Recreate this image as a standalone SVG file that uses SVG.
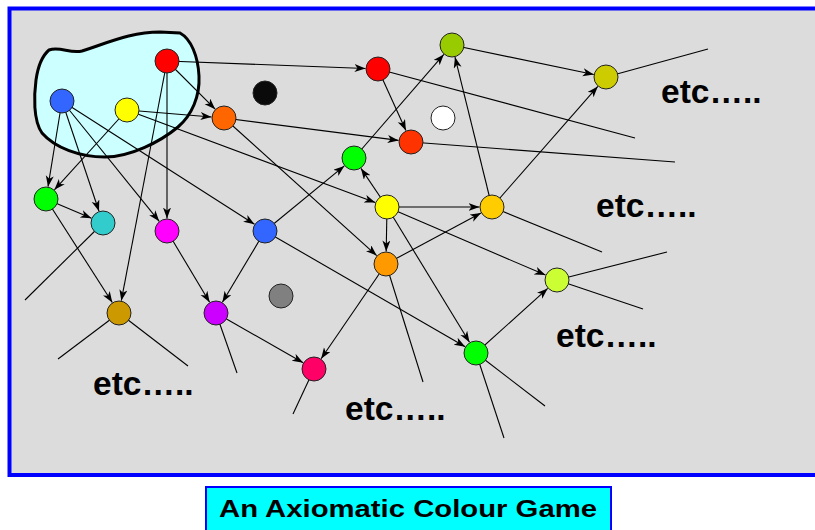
<svg xmlns="http://www.w3.org/2000/svg" width="815" height="530" viewBox="0 0 815 530">
<style>
.edge{stroke:#000;stroke-width:1.1;fill:none}
.arr{marker-end:url(#ah)}
.node{stroke:#222;stroke-width:1}
.etc{font-family:"Liberation Sans",Arial,sans-serif;font-weight:bold;font-size:33.5px;fill:#000}
</style>
<defs>
<marker id="ah" markerUnits="userSpaceOnUse" markerWidth="12" markerHeight="9" refX="11" refY="4" orient="auto">
<path d="M0,0 L11,4 L0,8 L3,4 Z" fill="#000"/>
</marker>
</defs>
<rect x="0" y="0" width="815" height="530" fill="#fff"/>
<rect x="9.5" y="8.5" width="812" height="466.5" fill="#dcdcdc" stroke="#0000ff" stroke-width="4"/>
<path id="blob" d="M49,50 C60,46 70,54 82,51 C110,42 132,32 160,32 L180,33 C191,39 198,56 199,76 C200,96 192,115 178,127 C160,142 130,157 105,157 C80,157 55,148 42,133 C33,120 34,95 36,80 C38,66 42,56 49,50 Z" fill="#ccffff" stroke="#000" stroke-width="3"/>
<g id="connectors">
<line class="edge arr" x1="167" y1="61" x2="365.5" y2="68.5"/>
<line class="edge arr" x1="167" y1="61" x2="215.2" y2="109.2"/>
<line class="edge arr" x1="167" y1="61" x2="167" y2="218.5"/>
<line class="edge arr" x1="167" y1="61" x2="121.3" y2="300.7"/>
<line class="edge arr" x1="62" y1="101" x2="48" y2="186.7"/>
<line class="edge arr" x1="62" y1="101" x2="99" y2="211.2"/>
<line class="edge arr" x1="62" y1="101" x2="159.2" y2="221.3"/>
<line class="edge arr" x1="62" y1="101" x2="254.5" y2="224.3"/>
<line class="edge arr" x1="127" y1="110" x2="211.5" y2="117"/>
<line class="edge arr" x1="127" y1="110" x2="54.4" y2="189.8"/>
<line class="edge arr" x1="127" y1="110" x2="375.3" y2="202.6"/>
<line class="edge arr" x1="46" y1="199" x2="91.5" y2="218.2"/>
<line class="edge arr" x1="46" y1="199" x2="112.3" y2="302.5"/>
<line class="edge arr" x1="224" y1="118" x2="398.6" y2="140.4"/>
<line class="edge arr" x1="224" y1="118" x2="376.7" y2="255.6"/>
<line class="edge arr" x1="265" y1="231" x2="344.3" y2="165.9"/>
<line class="edge arr" x1="354" y1="158" x2="443.8" y2="54.4"/>
<line class="edge arr" x1="378" y1="69" x2="405.9" y2="130.6"/>
<line class="edge arr" x1="452" y1="45" x2="593.8" y2="74.5"/>
<line class="edge arr" x1="387" y1="207" x2="361" y2="168.4"/>
<line class="edge arr" x1="387" y1="207" x2="479.5" y2="207"/>
<line class="edge arr" x1="387" y1="207" x2="386.2" y2="251.5"/>
<line class="edge arr" x1="492" y1="207" x2="455" y2="57.1"/>
<line class="edge arr" x1="492" y1="207" x2="597.8" y2="86.4"/>
<line class="edge arr" x1="386" y1="264" x2="481" y2="212.9"/>
<line class="edge arr" x1="387" y1="207" x2="545.5" y2="275.1"/>
<line class="edge arr" x1="387" y1="207" x2="469.5" y2="342.3"/>
<line class="edge arr" x1="265" y1="231" x2="465.2" y2="346.7"/>
<line class="edge arr" x1="265" y1="231" x2="222.4" y2="302.3"/>
<line class="edge arr" x1="167" y1="231" x2="209.6" y2="302.3"/>
<line class="edge arr" x1="216" y1="313" x2="303.2" y2="362.8"/>
<line class="edge arr" x1="386" y1="264" x2="321.1" y2="358.7"/>
<line class="edge arr" x1="476" y1="353" x2="547.7" y2="288.4"/>
<line class="edge" x1="103" y1="223" x2="25" y2="300"/>
<line class="edge" x1="378" y1="69" x2="635" y2="138"/>
<line class="edge" x1="411" y1="142" x2="675" y2="162"/>
<line class="edge" x1="606" y1="77" x2="708" y2="49"/>
<line class="edge" x1="492" y1="207" x2="602" y2="252"/>
<line class="edge" x1="557" y1="280" x2="667" y2="252"/>
<line class="edge" x1="557" y1="280" x2="643" y2="309"/>
<line class="edge" x1="476" y1="353" x2="545" y2="406"/>
<line class="edge" x1="476" y1="353" x2="504" y2="438"/>
<line class="edge" x1="216" y1="313" x2="237" y2="373"/>
<line class="edge" x1="119" y1="313" x2="58" y2="359"/>
<line class="edge" x1="119" y1="313" x2="188" y2="366"/>
<line class="edge" x1="386" y1="264" x2="423" y2="382"/>
<line class="edge" x1="314" y1="369" x2="293" y2="414"/>
</g>
<g id="n-red1"><circle class="node" cx="167" cy="61" r="12" fill="#ff0000"/></g>
<g id="n-blue1"><circle class="node" cx="62" cy="101" r="12" fill="#3366ff"/></g>
<g id="n-yellow1"><circle class="node" cx="127" cy="110" r="12" fill="#ffff00"/></g>
<g id="n-orange1"><circle class="node" cx="224" cy="118" r="12" fill="#ff6600"/></g>
<g id="n-black"><circle class="node" cx="265" cy="93" r="12" fill="#0a0a0a"/></g>
<g id="n-green1"><circle class="node" cx="46" cy="199" r="12" fill="#00ff00"/></g>
<g id="n-cyan"><circle class="node" cx="103" cy="223" r="12" fill="#33cccc"/></g>
<g id="n-magenta"><circle class="node" cx="167" cy="231" r="12" fill="#ff00ff"/></g>
<g id="n-blue2"><circle class="node" cx="265" cy="231" r="12" fill="#3366ff"/></g>
<g id="n-olive"><circle class="node" cx="452" cy="45" r="12" fill="#99cc00"/></g>
<g id="n-red2"><circle class="node" cx="378" cy="69" r="12" fill="#ff0000"/></g>
<g id="n-white"><circle class="node" cx="443" cy="118" r="12" fill="#ffffff"/></g>
<g id="n-redorange"><circle class="node" cx="411" cy="142" r="12" fill="#ff3300"/></g>
<g id="n-green2"><circle class="node" cx="354" cy="158" r="12" fill="#00ff00"/></g>
<g id="n-yellow2"><circle class="node" cx="387" cy="207" r="12" fill="#ffff00"/></g>
<g id="n-gold"><circle class="node" cx="492" cy="207" r="12" fill="#ffcc00"/></g>
<g id="n-yellowolive"><circle class="node" cx="606" cy="77" r="12" fill="#cccc00"/></g>
<g id="n-darkgold"><circle class="node" cx="119" cy="313" r="12" fill="#cc9900"/></g>
<g id="n-purple"><circle class="node" cx="216" cy="313" r="12" fill="#cc00ff"/></g>
<g id="n-grey"><circle class="node" cx="281" cy="296" r="12" fill="#808080"/></g>
<g id="n-orange2"><circle class="node" cx="386" cy="264" r="12" fill="#ff9900"/></g>
<g id="n-pink"><circle class="node" cx="314" cy="369" r="12" fill="#ff0066"/></g>
<g id="n-green3"><circle class="node" cx="476" cy="353" r="12" fill="#00ff00"/></g>
<g id="n-yellowgreen"><circle class="node" cx="557" cy="280" r="12" fill="#ccff33"/></g>
<text class="etc" x="661" y="103">etc…..</text>
<text class="etc" x="596" y="217">etc…..</text>
<text class="etc" x="556" y="347">etc…..</text>
<text class="etc" x="93" y="395">etc…..</text>
<text class="etc" x="345" y="420">etc…..</text>
<g id="title">
<rect x="206" y="487" width="405" height="60" fill="#00ffff" stroke="#0000ff" stroke-width="2"/>
<text x="408" y="517" text-anchor="middle" font-family="'Liberation Sans',Arial,sans-serif" font-weight="bold" font-size="24" textLength="378" lengthAdjust="spacingAndGlyphs">An Axiomatic Colour Game</text>
</g>
</svg>
